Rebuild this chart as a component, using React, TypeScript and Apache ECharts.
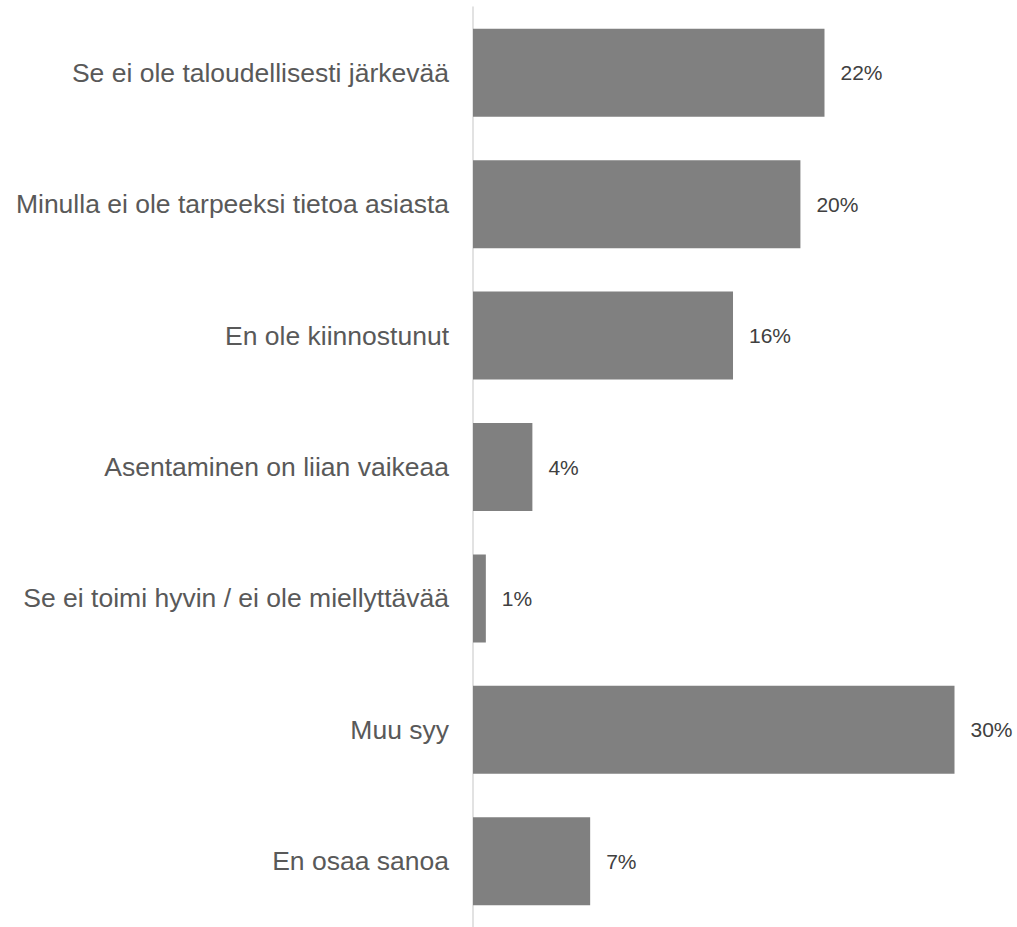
import React, { useEffect, useRef } from "react";
import * as echarts from "echarts";

const categories = [
  "Se ei ole taloudellisesti järkevää",
  "Minulla ei ole tarpeeksi tietoa asiasta",
  "En ole kiinnostunut",
  "Asentaminen on liian vaikeaa",
  "Se ei toimi hyvin / ei ole miellyttävää",
  "Muu syy",
  "En osaa sanoa",
];
const values = [21.9, 20.4, 16.2, 3.7, 0.8, 30.0, 7.3];

export default function App() {
  const ref = useRef<HTMLDivElement>(null);
  useEffect(() => {
    if (!ref.current) return;
    const chart = echarts.init(ref.current, undefined, { renderer: "svg" });
    chart.setOption({
      animation: false,
      grid: { left: 473, right: 30.4, top: 7, bottom: -4, containLabel: false },
      xAxis: {
        type: "value",
        min: 0,
        max: 32,
        show: false,
      },
      yAxis: {
        type: "category",
        inverse: true,
        data: categories,
        axisLine: { show: true, lineStyle: { color: "#d9d9d9", width: 1.5 } },
        axisTick: { show: false },
        axisLabel: {
          margin: 24,
          fontFamily: "Liberation Sans, Arial, sans-serif",
          fontSize: 26.5,
          color: "#595959",
        },
      },
      series: [
        {
          type: "bar",
          data: values,
          barWidth: 88,
          itemStyle: { color: "#808080" },
          label: {
            show: true,
            position: "right",
            distance: 16,
            formatter: (p: any) => Math.round(p.value) + "%",
            fontFamily: "Liberation Sans, Arial, sans-serif",
            fontSize: 21,
            color: "#404040",
          },
        },
      ],
    });
    return () => chart.dispose();
  }, []);
  return <div ref={ref} style={{ width: 1017, height: 927, position: "absolute", left: 0, top: 0 }} />;
}
